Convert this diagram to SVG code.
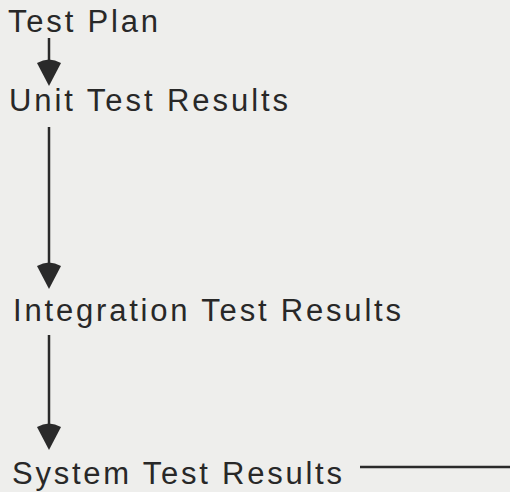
<svg xmlns="http://www.w3.org/2000/svg" width="510" height="492" viewBox="0 0 510 492">
  <style>
    .label { font-family: "Liberation Sans", Arial, sans-serif; font-size: 31px; fill: #282828; }
    .wire { stroke: #2a2a2a; stroke-width: 2.5; fill: none; }
    .head { fill: #2a2a2a; }
  </style>
  <defs>
    <!-- arrowhead with its tip at the origin, pointing down -->
    <path id="arrowhead" class="head" d="M-12,-23 Q0,-30 12,-23 L0,0 Z"/>
  </defs>
  <rect width="510" height="492" fill="#eeeeec"/>

  <g id="test-plan">
    <text class="label" x="8" y="32" textLength="150" lengthAdjust="spacing">Test Plan</text>
  </g>
  <g id="unit-test-results">
    <text class="label" x="9" y="111" textLength="279" lengthAdjust="spacing">Unit Test Results</text>
  </g>
  <g id="integration-test-results">
    <text class="label" x="13" y="321" textLength="388" lengthAdjust="spacing">Integration Test Results</text>
  </g>
  <g id="system-test-results">
    <text class="label" x="12" y="484" textLength="330" lengthAdjust="spacing">System Test Results</text>
  </g>

  <g id="connectors">
    <line class="wire" x1="49" y1="38" x2="49" y2="66"/>
    <use href="#arrowhead" x="49" y="86"/>
    <line class="wire" x1="49" y1="127" x2="49" y2="269"/>
    <use href="#arrowhead" x="49" y="289"/>
    <line class="wire" x1="49" y1="335" x2="49" y2="430"/>
    <use href="#arrowhead" x="49" y="450"/>
    <line class="wire" x1="360" y1="467" x2="510" y2="467"/>
  </g>
</svg>
